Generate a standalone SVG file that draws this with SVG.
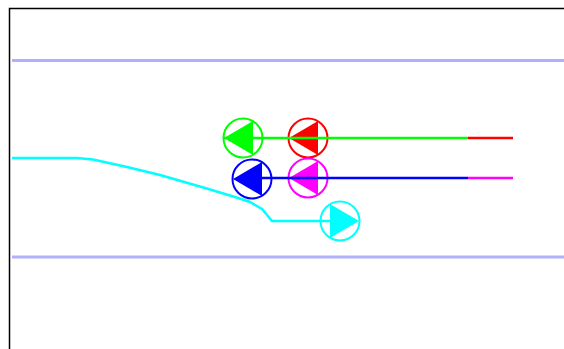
<svg xmlns="http://www.w3.org/2000/svg" width="564" height="349" viewBox="0 0 564 349">
<style>
.frame{fill:none;stroke:#000;stroke-width:1.5}
.lane{stroke:#b0b0ff;stroke-width:3}
.pump{fill:#fff;stroke-width:2}
.ln{fill:none;stroke-width:2.5}
</style>
<rect width="564" height="349" fill="#fff"/>
<path class="frame" d="M9.5,349 V8.5 H564"/>
<line class="lane" x1="12" y1="60.5" x2="564" y2="60.5"/>
<line class="lane" x1="12" y1="257" x2="564" y2="257"/>
<g id="node-green">
<circle class="pump" cx="243" cy="138" r="19.5" stroke="#00ff00"/>
<polygon points="224,138 253,121 253,155" fill="#00ff00"/>
</g>
<g id="node-red">
<circle class="pump" cx="308" cy="138" r="19.5" stroke="#ff0000"/>
<polygon points="289,138 318,121 318,155" fill="#ff0000"/>
</g>
<g id="node-blue">
<circle class="pump" cx="252" cy="179" r="19.5" stroke="#0000ff"/>
<polygon points="233,179 262,162 262,196" fill="#0000ff"/>
</g>
<g id="node-magenta">
<circle class="pump" cx="308" cy="178" r="19.5" stroke="#ff00ff"/>
<polygon points="289,178 318,161 318,195" fill="#ff00ff"/>
</g>
<g id="node-cyan">
<circle class="pump" cx="340" cy="221" r="19.5" stroke="#00ffff"/>
<polygon points="359,221 330,204 330,238" fill="#00ffff"/>
</g>
<g id="connectors">
<polyline class="ln" stroke="#00ffff" points="12,158 77,158 93,159.5 127,167 160,175 205,188 235,197 250,202 262,209 272,221 340,221"/>
<line class="ln" stroke="#00ff00" x1="224" y1="138" x2="468" y2="138"/>
<line class="ln" stroke="#ff0000" x1="468" y1="138" x2="513" y2="138"/>
<line class="ln" stroke="#0000ff" x1="252" y1="178" x2="468" y2="178"/>
<line class="ln" stroke="#ff00ff" x1="468" y1="178" x2="513" y2="178"/>
</g>
</svg>
